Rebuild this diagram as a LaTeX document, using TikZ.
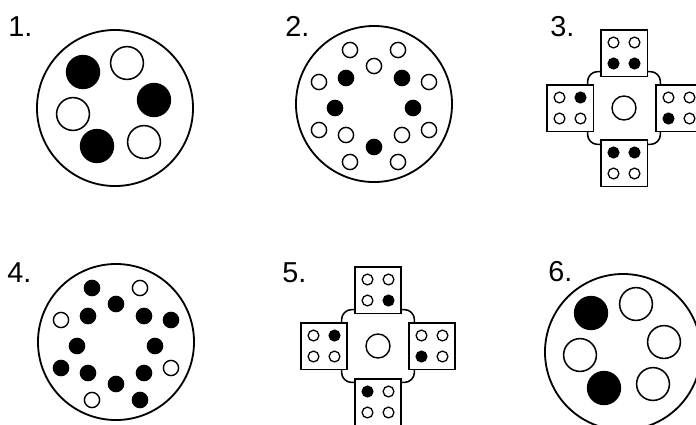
\documentclass[tikz,border=0pt]{standalone}
\usepackage{fontspec}
\setmainfont{Liberation Sans}
\usepackage{tikz}
\usetikzlibrary{
	positioning,
	calc
}

\begin{document}
\begin{tikzpicture}[
		x=0.025cm, y=-0.025cm,
		disc/.style={
			circle,
			draw,
			line width=1.3pt,
			minimum size=3.9cm,
			inner sep=0pt
		},
		bighole/.style={circle, draw, line width=1.1pt, minimum size=0.82cm, inner sep=0pt},
		bigpeg/.style={bighole, fill=black},
		smallhole/.style={circle, draw, line width=1pt, minimum size=0.38cm, inner sep=0pt},
		smallpeg/.style={smallhole, fill=black},
		tinyhole/.style={circle, draw, line width=0.9pt, minimum size=0.27cm, inner sep=0pt},
		tinypeg/.style={tinyhole, fill=black},
		hub/.style={
			draw,
			line width=1.1pt,
			rounded corners=0.25cm,
			minimum size=1.82cm,
			inner sep=0pt
		},
		cell/.style={
			draw,
			fill=white,
			line width=1.3pt,
			minimum size=1.17cm,
			inner sep=0pt
		},
		knob/.style={circle, draw, line width=1pt, minimum size=0.6cm, inner sep=0pt},
		num/.style={anchor=base west, inner sep=0pt, font=\fontsize{20.5}{24}\selectfont}
		]
		
		\path[use as bounding box, clip] (0,0) rectangle (696,424);
		
		% 1.
		\node[num] (lab1) at (8,36) {1.};
		\node[disc] (one) at (115,108) {};
		\foreach \dx/\dy/\k [count=\i] in {-32/-36/peg,12/-45/hole,39/-8/peg,-42/6/hole,-18/38/peg,29/34/hole}
		\node[big\k] (one-\i) at ($(one)+(\dx,\dy)$) {};
		
		% 2.
		\node[num] (lab2) at (285,36) {2.};
		\node[disc] (two) at (374,104) {};
		\foreach \dx/\dy/\k [count=\i] in {-24/-54/hole,24/-54/hole,-55/-22/hole,55/-22/hole,-55/26/hole,55/26/hole,-24/58/hole,24/58/hole,
			0/-38/hole,-28/-26/peg,28/-26/peg,-39/4/peg,39/4/peg,-28/31/hole,28/31/hole,0/43/peg}
		\node[small\k] (two-\i) at ($(two)+(\dx,\dy)$) {};
		
		% 3.
		\node[num] (lab3) at (550,36) {3.};
		\node[hub] (three) at (624,108) {};
		\foreach \s/\dx/\dy/\a/\b/\c/\d in {n/0/-55/hole/hole/peg/peg,w/-54/0/hole/peg/hole/hole,
			e/55/0/hole/hole/peg/hole,s/0/55/peg/peg/hole/hole}{
			\node[cell] (three-\s) at ($(three)+(\dx,\dy)$) {};
			\node[tiny\a] at ($(three-\s)+(-10.5,-10.5)$) {};
			\node[tiny\b] at ($(three-\s)+(10.5,-10.5)$) {};
			\node[tiny\c] at ($(three-\s)+(-10.5,10.5)$) {};
			\node[tiny\d] at ($(three-\s)+(10.5,10.5)$) {};
		}
		\node[knob] (three-c) at (three) {};
		
		% 4.
		\node[num] (lab4) at (7,282) {4.};
		\node[disc] (four) at (116,342) {};
		\foreach \dx/\dy/\k [count=\i] in {-24/-54/peg,24/-54/hole,-55/-22/hole,55/-22/peg,-55/26/peg,55/26/hole,-24/58/hole,24/58/peg,
			0/-38/peg,-28/-26/peg,28/-26/peg,-39/4/peg,39/4/peg,-28/31/peg,28/31/peg,0/42/peg}
		\node[small\k] (four-\i) at ($(four)+(\dx,\dy)$) {};
		
		% 5.
		\node[num] (lab5) at (282,282) {5.};
		\node[hub] (five) at (378,346) {};
		\foreach \s/\dx/\dy/\a/\b/\c/\d in {n/0/-56/hole/hole/hole/peg,w/-54/0/hole/peg/hole/hole,
			e/54/0/hole/hole/peg/hole,s/0/56/peg/hole/hole/hole}{
			\node[cell] (five-\s) at ($(five)+(\dx,\dy)$) {};
			\node[tiny\a] at ($(five-\s)+(-10.5,-10.5)$) {};
			\node[tiny\b] at ($(five-\s)+(10.5,-10.5)$) {};
			\node[tiny\c] at ($(five-\s)+(-10.5,10.5)$) {};
			\node[tiny\d] at ($(five-\s)+(10.5,10.5)$) {};
		}
		\node[knob] (five-c) at (five) {};
		
		% 6.
		\node[num] (lab6) at (548,281) {6.};
		\node[disc] (six) at (623,352) {};
		\foreach \dx/\dy/\k [count=\i] in {-32/-39/peg,13/-48/hole,41/-10/hole,-43/3/hole,-19/36/peg,30/32/hole}
		\node[big\k] (six-\i) at ($(six)+(\dx,\dy)$) {};
		
	\end{tikzpicture}
\end{document}
